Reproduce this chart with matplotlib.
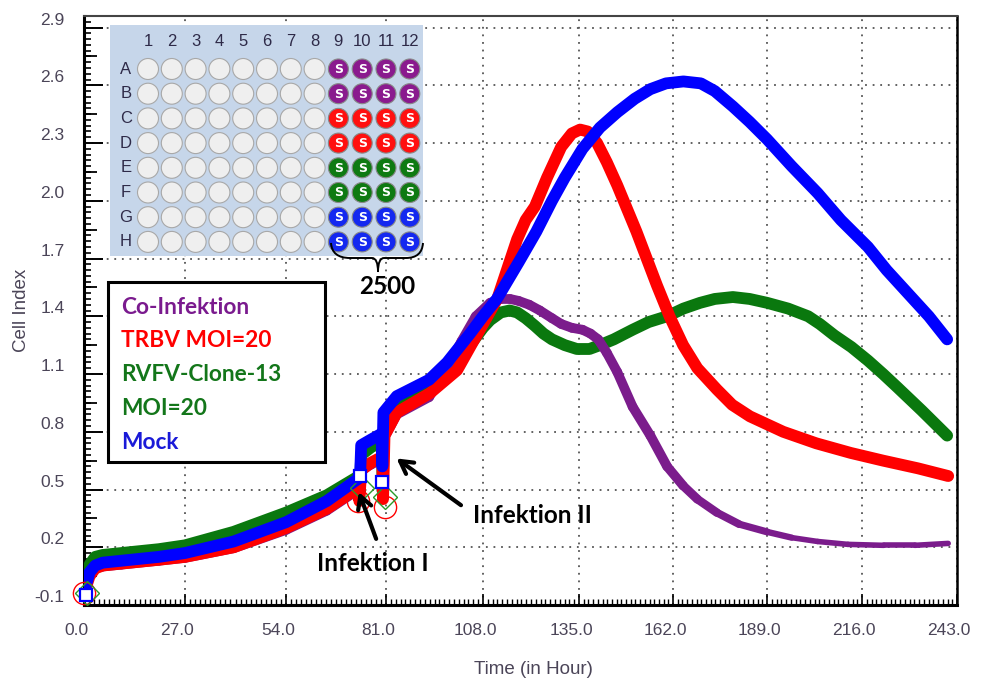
import numpy as np
import matplotlib
matplotlib.use('Agg')
import matplotlib.pyplot as plt
import matplotlib.transforms as mtrans
from matplotlib.patches import Rectangle, Circle, PathPatch
from matplotlib.path import Path
from matplotlib.collections import LineCollection
from matplotlib.ticker import FixedLocator
from matplotlib.lines import TICKRIGHT

# ---- data (hours, cell index) ----
blue_h = [0, 0.5, 1.5, 3, 5, 10, 20, 27, 40, 54, 65, 73.8, 74.0, 74.3, 77, 79.8, 80.0, 80.3,
          84, 93, 98, 104.4, 108, 111.9, 118, 123, 127.4, 131, 136, 141, 146, 151, 155.5, 160,
          165, 170, 174, 179.2, 184, 189, 196, 203.4, 210, 217.7, 223, 229, 235, 240.2]
blue_y = [-0.05, 0.0, 0.07, 0.105, 0.12, 0.13, 0.15, 0.17, 0.23, 0.33, 0.44, 0.56, 0.57, 0.73,
          0.76, 0.79, 0.62, 0.90, 0.985, 1.07, 1.16, 1.31, 1.40, 1.49, 1.68, 1.84, 2.0, 2.12,
          2.27, 2.38, 2.46, 2.53, 2.58, 2.61, 2.62, 2.61, 2.57, 2.49, 2.41, 2.32, 2.18, 2.04,
          1.90, 1.76, 1.64, 1.52, 1.40, 1.28]

red_h = [0, 0.5, 1.5, 3, 5, 10, 20, 27, 40, 54, 65, 73.6, 73.8, 74.3, 77, 80.0, 80.2, 80.6,
         84, 93.2, 100.8, 105.6, 112, 117.6, 120, 122.6, 126, 130, 133, 135.3, 137.5, 140.2,
         143, 146, 151.5, 157.4, 161, 164.9, 169, 174.6, 179, 184.1, 193.6, 203, 212.8, 222,
         231.9, 240.5]
red_y = [-0.05, -0.01, 0.05, 0.09, 0.105, 0.115, 0.135, 0.15, 0.2, 0.3, 0.4, 0.51, 0.44, 0.6,
         0.64, 0.67, 0.45, 0.78, 0.9, 1.0, 1.12, 1.28, 1.49, 1.80, 1.90, 1.97, 2.12, 2.28, 2.35,
         2.37, 2.36, 2.30, 2.20, 2.08, 1.84, 1.56, 1.40, 1.25, 1.13, 1.02, 0.94, 0.88, 0.80,
         0.74, 0.69, 0.65, 0.61, 0.57]

purple_h = [0, 0.5, 1.5, 3, 5, 10, 20, 27, 40, 54, 65, 73.6, 73.8, 74.3, 77, 80.0, 80.2, 80.6,
            84, 93, 98, 102, 106, 110, 113, 115.6, 118, 121, 124, 127.4, 130, 133, 136, 138.3,
            140.5, 143, 146, 150.4, 155.5, 160.3, 164.9, 169, 174.6, 181, 189, 196, 203.4, 212,
            222.2, 231, 240.5]
purple_y = [-0.05, -0.01, 0.05, 0.09, 0.10, 0.11, 0.13, 0.145, 0.195, 0.29, 0.39, 0.5, 0.46,
            0.6, 0.63, 0.66, 0.47, 0.77, 0.89, 0.98, 1.13, 1.27, 1.40, 1.47, 1.49, 1.49, 1.48,
            1.46, 1.43, 1.39, 1.36, 1.34, 1.33, 1.31, 1.28, 1.21, 1.11, 0.93, 0.78, 0.62, 0.52,
            0.45, 0.38, 0.32, 0.28, 0.25, 0.23, 0.215, 0.21, 0.21, 0.22]

green_h = [0, 0.5, 1.5, 3, 5, 10, 20, 27, 40, 54, 65, 73.7, 73.9, 74.3, 77, 79.9, 80.1, 80.5,
           84, 93, 98, 104.4, 108, 110, 113, 115.5, 117.6, 120, 122.6, 125, 127.4, 131, 134.4,
           138, 141, 145, 150.4, 155, 160.3, 165, 169.8, 174, 179.2, 184, 189, 195, 200.7, 204,
           208.2, 213, 217.7, 222, 226.1, 233, 240.2]
green_y = [-0.05, 0.03, 0.11, 0.15, 0.16, 0.17, 0.19, 0.21, 0.28, 0.38, 0.47, 0.57, 0.48, 0.68,
           0.72, 0.75, 0.49, 0.87, 0.95, 1.03, 1.10, 1.25, 1.34, 1.38, 1.42, 1.43, 1.42, 1.39,
           1.35, 1.31, 1.28, 1.25, 1.23, 1.23, 1.25, 1.28, 1.33, 1.37, 1.40, 1.44, 1.47, 1.49,
           1.50, 1.49, 1.47, 1.44, 1.40, 1.36, 1.30, 1.24, 1.17, 1.10, 1.03, 0.91, 0.78]

# open markers at the infection points
blue_mk_h, blue_mk_y = [0.5, 74.0, 80.0], [-0.05, 0.57, 0.54]
red_mk_h, red_mk_y = [0.0, 73.4, 80.6], [-0.04, 0.44, 0.41]
green_mk_h, green_mk_y = [0.8, 74.6, 80.6], [-0.04, 0.51, 0.46]

x_ticks = [0, 27, 54, 81, 108, 135, 162, 189, 216, 243]
y_ticks = [-0.1, 0.2, 0.5, 0.8, 1.1, 1.4, 1.7, 2.0, 2.3, 2.6, 2.9]

legend_lines = ['Co-Infektion', 'TRBV MOI=20', 'RVFV-Clone-13', 'MOI=20', 'Mock']
legend_cols = ['#7a1a8e', '#ff0000', '#13761a', '#13761a', '#1a1ad8']

plate_cols = [str(i) for i in range(1, 13)]
plate_rows = ['A', 'B', 'C', 'D', 'E', 'F', 'G', 'H']
row_colors = ['#8a1a8e', '#8a1a8e', '#ff1010', '#ff1010', '#0e7a12', '#0e7a12', '#1428f0', '#1428f0']

c_purple, c_red, c_green, c_blue = '#7b1c8c', '#ff0000', '#0a780e', '#0000ff'

# the instrument's time axis is not evenly spaced on screen; copy where its grid lines sit
grid_px = np.array([84, 185, 286, 386, 483, 579, 673, 767, 862, 957], float)
grid_h = np.array(x_ticks, float)


def fwd(h):
    h = np.asarray(h, float)
    return (np.interp(h, grid_h, grid_px) + np.where(h < 0, h * 101 / 27, 0)
            + np.where(h > 243, (h - 243) * 95 / 27, 0))


def inv(p):
    p = np.asarray(p, float)
    return (np.interp(p, grid_px, grid_h) + np.where(p < 84, (p - 84) * 27 / 101, 0)
            + np.where(p > 957, (p - 957) * 27 / 95, 0))


fig = plt.figure(figsize=(10.06, 6.84), dpi=100)
ax = fig.add_axes([84 / 1006, 1 - 605 / 684, (957 - 84) / 1006, (605 - 16) / 684])
ax.set_xscale('function', functions=(fwd, inv))

lw = 8.5
ax.plot(green_h, green_y, color=c_green, lw=lw, solid_joinstyle='round', solid_capstyle='round', zorder=3)

# purple trace gets thinner in its flat tail
pts = np.column_stack([purple_h, purple_y])
segs = np.stack([pts[:-1], pts[1:]], axis=1)
mid = (np.array(purple_h[:-1]) + np.array(purple_h[1:])) / 2
widths = np.interp(mid, [160, 200], [lw - 1.5, 4.0])
lc = LineCollection(segs, colors=c_purple, linewidths=widths, zorder=4,
                    capstyle='round', joinstyle='round')
ax.add_collection(lc)

ax.plot(red_h, red_y, color=c_red, lw=lw, solid_joinstyle='round', solid_capstyle='round', zorder=5)
ax.plot(blue_h, blue_y, color=c_blue, lw=lw, solid_joinstyle='round', solid_capstyle='round', zorder=6)

ax.plot(red_mk_h, red_mk_y, 'o', ms=16, mfc='none', mec=c_red, mew=1.0, zorder=7, clip_on=False)
ax.plot(green_mk_h, green_mk_y, 'D', ms=12, mfc='none', mec='#2a9a2a', mew=1.0, zorder=7, clip_on=False)
ax.plot(blue_mk_h, blue_mk_y, 's', ms=8, mfc='white', mec=c_blue, mew=1.6, zorder=8, clip_on=False)

ax.set_xlim(0, 243)
ax.set_ylim(-0.1, 2.96)
ax.xaxis.set_major_locator(FixedLocator(x_ticks))
ax.xaxis.set_minor_locator(FixedLocator(np.arange(0, 243.1, 1.35)))
ax.yaxis.set_major_locator(FixedLocator(y_ticks))
ax.yaxis.set_minor_locator(FixedLocator(np.arange(-0.1, 2.96, 0.03)))
ax.set_xticklabels(['%.1f' % v for v in x_ticks])
ax.set_yticklabels(['%.1f' % v for v in y_ticks])

ax.tick_params(axis='both', which='both', direction='in', colors='black')
ax.tick_params(axis='x', which='major', length=8, width=1.2, pad=13, labelsize=12.5, labelcolor='#4b4558')
ax.tick_params(axis='x', which='minor', length=4, width=1.0)
ax.tick_params(axis='y', which='major', length=14, width=1.4, pad=14, labelsize=12.5, labelcolor='#4b4558')
ax.tick_params(axis='y', which='minor', length=5, width=1.2)
for lab in ax.get_xticklabels():
    lab.set_fontfamily('Liberation Sans')
    lab.set_transform(lab.get_transform() + mtrans.ScaledTranslation(-0.08, 0, fig.dpi_scale_trans))
for lab in ax.get_yticklabels():
    lab.set_fontfamily('Liberation Sans')
    lab.set_transform(lab.get_transform() + mtrans.ScaledTranslation(0, 0.09, fig.dpi_scale_trans))

# medium ticks halfway between the major y ticks
ytrans = mtrans.blended_transform_factory(ax.transAxes, ax.transData)
for yv in np.arange(0.05, 2.9, 0.3):
    ax.plot([0], [yv], marker=TICKRIGHT, ms=9, mew=1.3, color='black', transform=ytrans, clip_on=False)

ax.grid(True, which='major', color='#555555', linestyle=(0, (1, 3.2)), linewidth=1.3)
ax.spines['left'].set_linewidth(2.2)
ax.spines['bottom'].set_linewidth(2.2)
ax.spines['top'].set_linewidth(1.5)
ax.spines['right'].set_linewidth(1.8)
ax.spines['top'].set_color('#444444')

ax.set_xlabel('Time (in Hour)', fontsize=13.5, color='#4b4558', family='Liberation Sans')
ax.set_ylabel('Cell Index', fontsize=13.5, color='#4b4558', family='Liberation Sans')
ax.xaxis.set_label_coords(0.515, -0.095)
ax.yaxis.set_label_coords(-0.062, 0.5)

# infection arrows
bold = dict(family='Lato', weight='bold', fontsize=17.5, color='black')
ax.annotate('', xy=(73.4, 0.50), xytext=(78.6, 0.23),
            arrowprops=dict(arrowstyle='->,head_length=0.9,head_width=0.5', lw=3, color='black'), zorder=9)
ax.annotate('', xy=(83.3, 0.67), xytext=(102.5, 0.41),
            arrowprops=dict(arrowstyle='->,head_length=0.9,head_width=0.5', lw=3, color='black'), zorder=9)
ax.text(77.5, 0.118, 'Infektion I', ha='center', va='center', zorder=9, **bold)
ax.text(105.2, 0.367, 'Infektion II', ha='left', va='center', zorder=9, **bold)

# overlay in pixel units for the plate picture and the legend box
ov = fig.add_axes([0, 0, 1, 1], zorder=10)
ov.set_xlim(0, 1006)
ov.set_ylim(684, 0)
ov.axis('off')
ov.patch.set_alpha(0)

ov.add_patch(Rectangle((110, 25), 313, 231, facecolor='#c6d6ea', edgecolor='none'))
x0, dx = 148, 23.8
y0, dy = 69, 24.7
for j, c in enumerate(plate_cols):
    ov.text(x0 + j * dx, 41, c, ha='center', va='center', fontsize=12,
            family='Liberation Sans', color='#2e2a48')
for i, r in enumerate(plate_rows):
    ov.text(126, y0 + i * dy, r, ha='center', va='center', fontsize=12,
            family='Liberation Sans', color='#2e2a48')
    for j in range(12):
        cx, cy = x0 + j * dx, y0 + i * dy
        if j < 8:
            ov.add_patch(Circle((cx, cy), 10.5, facecolor='#efefef', edgecolor='#a8a8a8', lw=0.8))
        else:
            ov.add_patch(Circle((cx, cy), 10.0, facecolor=row_colors[i], edgecolor='#888888', lw=0.8))
            ov.text(cx, cy + 0.5, 'S', ha='center', va='center', fontsize=9, weight='bold',
                    color='white', family='DejaVu Sans')

# brace under columns 9-12
verts = [(331, 243), (332, 258), (350, 258), (372, 258), (378, 258), (378, 272),
         (378, 258), (384, 258), (406, 258), (422, 258), (423, 243)]
codes = [Path.MOVETO, Path.CURVE3, Path.CURVE3, Path.LINETO, Path.CURVE3, Path.CURVE3,
         Path.CURVE3, Path.CURVE3, Path.LINETO, Path.CURVE3, Path.CURVE3]
ov.add_patch(PathPatch(Path(verts, codes), facecolor='none', edgecolor='black', lw=1.4))
ov.text(387, 287, '2500', ha='center', va='center', **bold)

# legend box
ov.add_patch(Rectangle((108, 282), 217, 180, facecolor='white', edgecolor='black', lw=2.2))
for k, (txt, col) in enumerate(zip(legend_lines, legend_cols)):
    ov.text(121, 307 + k * 33.8, txt, ha='left', va='center', family='Lato',
            weight='bold', fontsize=16.3, color=col)

fig.savefig('out.png', dpi=100)
